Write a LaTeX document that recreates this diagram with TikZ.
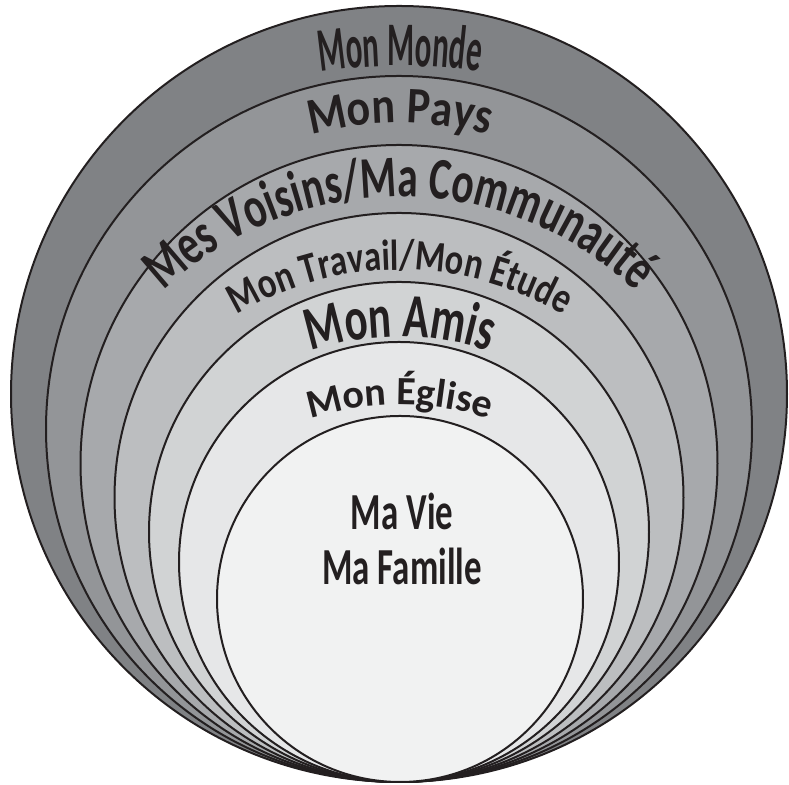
\documentclass[tikz,border=0pt]{standalone}
\usepackage{fontspec}
\setmainfont{Carlito}
\newfontfamily\mondefam[FakeStretch=0.5]{Carlito}
\newfontfamily\paysfam[FakeStretch=0.86]{Carlito}
\newfontfamily\voisinsfam[FakeStretch=0.7]{Carlito}
\newfontfamily\travailfam[FakeStretch=0.79]{Carlito}
\newfontfamily\amisfam[FakeStretch=0.69]{Carlito}
\newfontfamily\eglisefam[FakeStretch=1.0]{Carlito}
\newfontfamily\viefam[FakeStretch=0.67]{Carlito}
\usetikzlibrary{decorations.text}
\definecolor{inkcolor}{HTML}{231F20}
\definecolor{mondecolor}{HTML}{808285}
\definecolor{payscolor}{HTML}{939598}
\definecolor{voisinscolor}{HTML}{A7A9AC}
\definecolor{travailcolor}{HTML}{BCBEC0}
\definecolor{amiscolor}{HTML}{D1D3D4}
\definecolor{eglisecolor}{HTML}{E6E7E8}
\definecolor{viecolor}{HTML}{F1F2F2}
\newcommand\labelsize[1]{\fontsize{#1}{#1}\selectfont\bfseries}

\begin{document}
\begin{tikzpicture}[
  x=0.5pt, y=0.5pt,
  ring/.style={draw=inkcolor, line width=1pt, fill=#1},
  arclabel/.style={decorate, decoration={text along path, text align=center, text={#1}}},
  centerlabel/.style={anchor=base, text=inkcolor, font=\viefam\labelsize{26pt}}
]
\useasboundingbox (0,0) rectangle (789,785);
\draw[ring=mondecolor] (399,391) circle[radius=388];
\draw[ring=payscolor] (399,356) circle[radius=353];
\draw[ring=voisinscolor] (399,321.5) circle[radius=318.5];
\draw[ring=travailcolor] (399,287.5) circle[radius=284.5];
\draw[ring=amiscolor] (399,253) circle[radius=250];
\draw[ring=eglisecolor] (399,223) circle[radius=220];
\draw[ring=viecolor] (400,186) circle[radius=183];

\path[arclabel={|\mondefam\labelsize{31pt}\color{inkcolor}|Mon Monde}]
  (400,169) ++(110:550) arc[start angle=110, end angle=70, radius=550];
\path[arclabel={|\paysfam\labelsize{25.6pt}\color{inkcolor}|Mon Pays}]
  (400,319) ++(125:343) arc[start angle=125, end angle=55, radius=343];
\path[arclabel={|\voisinsfam\labelsize{29.5pt}\color{inkcolor}|Mes Voisins/Ma Communauté}]
  (400,245) ++(150:343) arc[start angle=150, end angle=30, radius=343];
\path[arclabel={|\travailfam\labelsize{21.7pt}\color{inkcolor}|Mon Travail/Mon Étude}]
  (400,196) ++(140:319) arc[start angle=140, end angle=40, radius=319];
\path[arclabel={|\amisfam\labelsize{31pt}\color{inkcolor}|Mon Amis}]
  (400,165) ++(130:283) arc[start angle=130, end angle=50, radius=283];
\path[arclabel={|\eglisefam\labelsize{20pt}\color{inkcolor}|Mon Église}]
  (400,80) ++(125:300) arc[start angle=125, end angle=55, radius=300];

\node[centerlabel] (vie) at (402,255) {Ma Vie};
\node[centerlabel] (famille) at (402,200) {Ma Famille};
\end{tikzpicture}
\end{document}
